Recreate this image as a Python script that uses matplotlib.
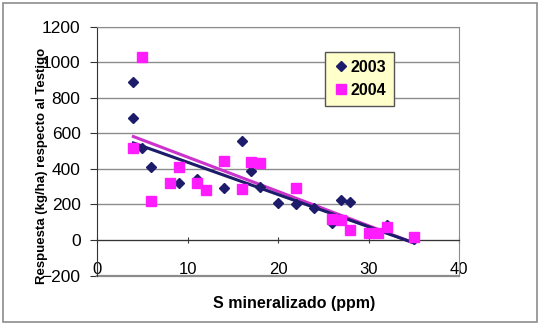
import matplotlib.pyplot as plt
from matplotlib.patches import Rectangle

plt.rcParams['font.family'] = ['Liberation Sans', 'DejaVu Sans']

# S mineralizado (ppm) vs respuesta (kg/ha), por campaña
x_2003 = [4, 4, 5, 6, 9, 11, 14, 16, 17, 18, 20, 22, 24, 26, 27, 28, 32, 35]
y_2003 = [890, 685, 520, 410, 320, 345, 290, 555, 390, 300, 210, 200, 180, 95, 225, 212, 82, 5]

x_2004 = [4, 5, 6, 8, 9, 11, 12, 14, 16, 17, 18, 22, 26, 27, 28, 30, 31, 32, 35]
y_2004 = [515, 1030, 220, 320, 410, 318, 280, 445, 285, 440, 432, 292, 120, 112, 54, 38, 40, 72, 15]

# lineas de tendencia (extremos)
trend_x = [4, 35]
trend_2003 = [546, -16]
trend_2004 = [582, -16]

navy = '#1c1c6b'
pink = '#ff1dff'

fig = plt.figure(figsize=(5.4, 3.25), dpi=100)
fig.patches.append(Rectangle((0.006, 0.01), 0.988, 0.98, transform=fig.transFigure,
                             fill=False, edgecolor='#8c8c8c', linewidth=1.2))
ax = fig.add_axes([0.18, 0.152, 0.67, 0.766])

ax.plot(trend_x, trend_2004, color='#cc33cc', linewidth=2.2, zorder=3)
ax.plot(trend_x, trend_2003, color=navy, linewidth=2.2, zorder=3)
ax.plot(x_2003, y_2003, 'D', color=navy, markersize=5.5, linestyle='none', label='2003', zorder=4)
ax.plot(x_2004, y_2004, 's', color=pink, markersize=6.8, linestyle='none', label='2004', zorder=4)

ax.set_xlim(0, 40)
ax.set_ylim(-200, 1200)
ax.set_xticks([0, 10, 20, 30, 40])
ax.set_yticks(range(-200, 1201, 200))
ax.grid(axis='y', color='#8c8c8c', linewidth=1.0)
ax.set_axisbelow(True)

ax.spines['bottom'].set_position(('data', 0))
ax.spines['bottom'].set_color('#333333')
ax.spines['left'].set_color('#333333')
for side in ['top', 'right']:
    ax.spines[side].set_color('#8c8c8c')
ax.axhline(-200, color='#8c8c8c', linewidth=1.6, clip_on=False)

ax.tick_params(axis='x', direction='inout', length=5, pad=13, labelsize=12, color='#333333')
ax.tick_params(axis='y', direction='out', length=5, pad=7, labelsize=12.5, color='#333333')

fig.text(0.545, 0.065, 'S mineralizado (ppm)', ha='center', va='center',
         fontsize=11.5, fontweight='bold')
fig.text(0.078, 0.49, 'Respuesta (kg/ha) respecto al Testigo', ha='center', va='center',
         rotation=90, fontsize=9.5, fontweight='bold')

leg = ax.legend(loc='upper left', bbox_to_anchor=(0.63, 0.898), borderaxespad=0,
                prop={'weight': 'bold', 'size': 11.5}, frameon=True, fancybox=False,
                handletextpad=0.1, handlelength=1.0, borderpad=0.5, labelspacing=0.5)
leg.get_frame().set_facecolor('#ffffcc')
leg.get_frame().set_edgecolor('#555555')
leg.get_frame().set_alpha(1)

fig.savefig('out.png', dpi=100)
